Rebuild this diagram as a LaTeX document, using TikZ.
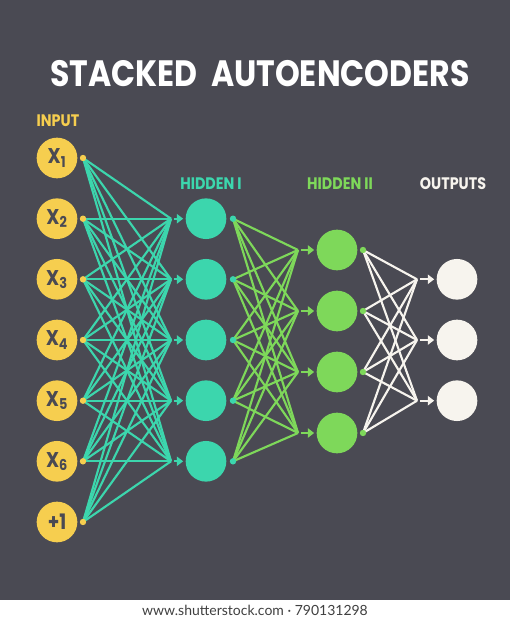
\documentclass[tikz,border=0pt]{standalone}
\usepackage{fontspec}
\setmainfont{Poppins}[FakeStretch=0.86]
\newfontfamily\creditfont{Lato}
\usetikzlibrary{arrows.meta,backgrounds}

\definecolor{bgdark}{HTML}{4A4A53}
\definecolor{inyellow}{HTML}{F6CE4F}
\definecolor{hidteal}{HTML}{3CD6AD}
\definecolor{hidgreen}{HTML}{7ED85A}
\definecolor{outwhite}{HTML}{F7F4EE}

\tikzset{every picture/.style={line width=0.75pt}}

\begin{document}
\begin{tikzpicture}[x=0.75pt,y=0.75pt,yscale=-1,xscale=1,
  unit/.style={circle,minimum size=30.5pt,inner sep=0pt},
  knot/.style={circle,minimum size=4.8pt,inner sep=0pt},
  link/.style={line width=1.6pt},
  feed/.style={line width=1.7pt,-{Triangle[length=4.8pt,width=7pt]},shorten <=2.2pt,shorten >=1.5pt},
  layertitle/.style={font=\bfseries\fontsize{12.5}{14}\selectfont},
  xlabel/.style={font=\bfseries\fontsize{16}{17}\selectfont,text=bgdark}]
\useasboundingbox (0,0) rectangle (510,620);

% Text Node
\node [font=\bfseries\fontsize{27.5}{30}\selectfont,white] (title) at (260,74) {STACKED\ \ AUTOENCODERS};

%Shape: Circle [input]
\foreach \i/\y/\t in {1/158/X\textsubscript{1},2/218.7/X\textsubscript{2},3/279.3/X\textsubscript{3},4/340/X\textsubscript{4},5/400.7/X\textsubscript{5},6/461.3/X\textsubscript{6},7/522/+1}{
  \node [unit,fill=inyellow,xlabel] (in\i) at (57,\y) {\t};
  \node [knot,fill=inyellow] (ind\i) at (83,\y) {};
}
%Shape: Circle [hidden I]
\foreach \j/\y in {1/218.7,2/279.3,3/340,4/400.7,5/461.3}{
  \coordinate (h1a\j) at (171,\y);
  \node [unit,fill=hidteal] (h1\j) at (206,\y) {};
  \node [knot,fill=hidteal] (h1d\j) at (233,\y) {};
}
%Shape: Circle [hidden II]
\foreach \k/\y in {1/250,2/311,3/372,4/433}{
  \coordinate (h2a\k) at (298,\y);
  \node [unit,fill=hidgreen] (h2\k) at (337,\y) {};
  \node [knot,fill=hidgreen] (h2d\k) at (363,\y) {};
}
%Shape: Circle [outputs]
\foreach \m/\y in {1/279.3,2/340,3/400.7}{
  \coordinate (outa\m) at (417,\y);
  \node [unit,fill=outwhite] (out\m) at (457,\y) {};
}

\begin{scope}[on background layer]
%Shape: Rectangle [background]
\fill [bgdark] (0,0) rectangle (510,600);
\fill [white] (0,600) rectangle (510,620);
%Straight Lines [weights]
\foreach \i in {1,...,7}
  \foreach \j in {1,...,5}
    \draw [link,hidteal] (ind\i.center) -- (h1a\j);
\foreach \j in {1,...,5}
  \foreach \k in {1,...,4}
    \draw [link,hidgreen] (h1d\j.center) -- (h2a\k);
\foreach \k in {1,...,4}
  \foreach \m in {1,...,3}
    \draw [link,outwhite] (h2d\k.center) -- (outa\m);
\end{scope}

%Straight Lines [arrows]
\foreach \j in {1,...,5}
  \draw [feed,hidteal] (h1a\j) -- (h1\j);
\foreach \k in {1,...,4}
  \draw [feed,hidgreen] (h2a\k) -- (h2\k);
\foreach \m in {1,...,3}
  \draw [feed,outwhite] (outa\m) -- (out\m);

% Text Node
\node [layertitle,inyellow] (intitle) at (58,121) {INPUT};
% Text Node
\node [layertitle,hidteal] (h1title) at (211,184) {HIDDEN I};
% Text Node
\node [layertitle,hidgreen] (h2title) at (340,184) {HIDDEN II};
% Text Node
\node [layertitle,outwhite] (outtitle) at (453,184) {OUTPUTS};
% Text Node
\node [font=\creditfont\fontsize{10.5}{12}\selectfont,text=black!75] (credit) at (255,610) {www.shutterstock.com · 790131298};

\end{tikzpicture}
\end{document}
